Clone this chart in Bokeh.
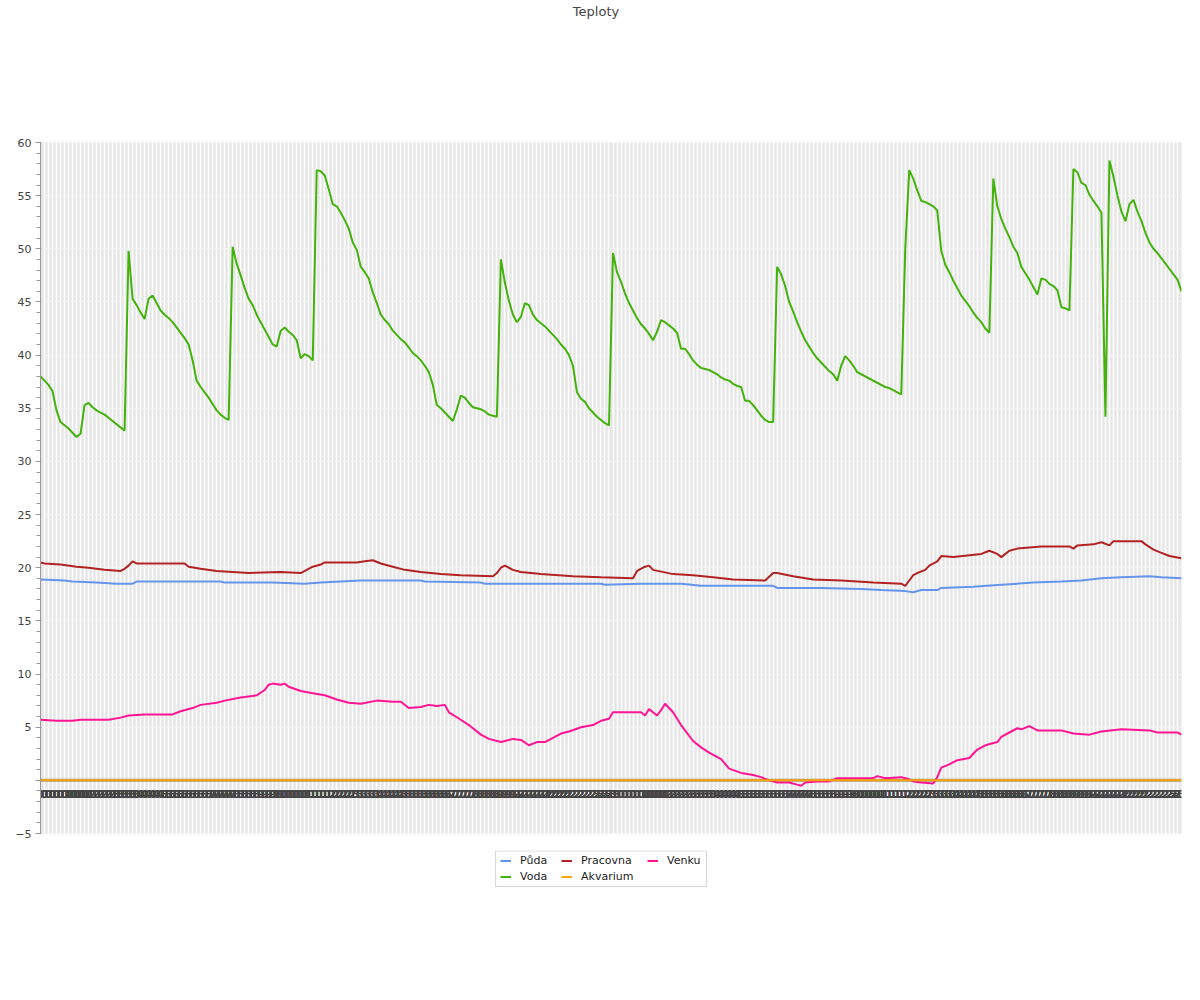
from bokeh.plotting import figure
from bokeh.models import (FixedTicker, Legend, LegendItem, Range1d, Div, Span,
                          BoxAnnotation)
from bokeh.layouts import column
from bokeh.embed import file_html
from bokeh.resources import INLINE

# ---- data ----
N = 286
x_labels = [f"{(i * 10 // 60) % 24:02d}" for i in range(N)]

voda_y = [38.0, 37.6, 37.2, 36.6, 34.8, 33.7, 33.4, 33.1, 32.7, 32.3,
          32.6, 35.3, 35.5, 35.1, 34.8, 34.6, 34.4, 34.1, 33.8, 33.5,
          33.2, 32.9, 49.8, 45.3, 44.7, 44.0, 43.4, 45.3, 45.6, 44.9,
          44.2, 43.8, 43.5, 43.1, 42.6, 42.1, 41.6, 41.0, 39.5, 37.6,
          37.0, 36.5, 36.0, 35.4, 34.8, 34.4, 34.1, 33.9, 50.2, 48.6,
          47.5, 46.3, 45.3, 44.7, 43.8, 43.1, 42.4, 41.7, 41.0, 40.8,
          42.3, 42.6, 42.2, 41.9, 41.4, 39.7, 40.1, 39.9, 39.5, 57.4,
          57.3, 56.9, 55.6, 54.2, 54.0, 53.4, 52.7, 51.9, 50.6, 49.9,
          48.3, 47.8, 47.2, 45.9, 44.9, 43.8, 43.3, 42.9, 42.3, 41.9,
          41.5, 41.2, 40.7, 40.2, 39.9, 39.5, 39.0, 38.4, 37.2, 35.3,
          35.0, 34.6, 34.2, 33.8, 34.9, 36.2, 36.0, 35.5, 35.1, 35.0,
          34.9, 34.7, 34.4, 34.3, 34.2, 49.0, 46.8, 45.1, 43.8, 43.1,
          43.6, 44.9, 44.7, 43.8, 43.3, 43.0, 42.7, 42.3, 41.9, 41.5,
          41.0, 40.6, 40.0, 39.0, 36.5, 35.9, 35.6, 35.0, 34.6, 34.2,
          33.9, 33.6, 33.4, 49.6, 47.8, 46.9, 45.8, 44.9, 44.2, 43.5,
          42.9, 42.5, 42.0, 41.4, 42.2, 43.3, 43.1, 42.8, 42.5, 42.1,
          40.6, 40.6, 40.1, 39.5, 39.1, 38.8, 38.7, 38.6, 38.4, 38.2,
          37.9, 37.7, 37.6, 37.3, 37.1, 37.0, 35.7, 35.7, 35.3, 34.8,
          34.3, 33.9, 33.7, 33.7, 48.3, 47.6, 46.5, 45.0, 44.1, 43.1,
          42.2, 41.4, 40.8, 40.2, 39.7, 39.3, 38.9, 38.5, 38.2, 37.6,
          39.0, 39.9, 39.5, 39.0, 38.4, 38.2, 38.0, 37.8, 37.6, 37.4,
          37.2, 37.0, 36.9, 36.7, 36.5, 36.3, 50.0, 57.4, 56.6, 55.5,
          54.5, 54.4, 54.2, 54.0, 53.6, 49.8, 48.5, 47.8, 47.0, 46.3,
          45.6, 45.1, 44.6, 44.0, 43.5, 43.1, 42.5, 42.1, 56.6, 54.0,
          52.8, 51.9, 51.1, 50.2, 49.6, 48.3, 47.7, 47.1, 46.4, 45.7,
          47.2, 47.1, 46.7, 46.5, 46.1, 44.5, 44.4, 44.2, 57.5, 57.2,
          56.2, 56.0, 55.1, 54.5, 54.0, 53.4, 34.2, 58.3, 56.8, 55.0,
          53.5, 52.6, 54.2, 54.6, 53.5, 52.6, 51.5, 50.6, 50.0, 49.6,
          49.1, 48.6, 48.1, 47.6, 47.1, 46.0]
voda_x = list(range(len(voda_y)))

puda_x = [0, 6, 8, 14, 19, 23, 24, 45, 46, 58, 66, 70, 80, 95, 96, 110, 111,
          140, 141, 150, 160, 165, 183, 184, 195, 205, 210, 216, 218, 220,
          224, 225, 233, 240, 248, 255, 260, 265, 270, 277, 280, 285]
puda_y = [18.9, 18.8, 18.7, 18.6, 18.5, 18.5, 18.7, 18.7, 18.6, 18.6, 18.5,
          18.6, 18.8, 18.8, 18.7, 18.6, 18.5, 18.5, 18.4, 18.5, 18.5, 18.3,
          18.3, 18.1, 18.1, 18.0, 17.9, 17.8, 17.7, 17.9, 17.9, 18.1, 18.2,
          18.4, 18.6, 18.7, 18.8, 19.0, 19.1, 19.2, 19.1, 19.0]

pracovna_x = [0, 1, 5, 9, 12, 16, 20, 21, 22, 23, 24, 36, 37, 40, 44, 48, 52,
              60, 65, 68, 70, 71, 79, 81, 83, 85, 88, 91, 95, 100, 105, 113,
              114, 115, 116, 118, 120, 125, 133, 140, 148, 149, 151, 152, 153,
              158, 163, 168, 173, 181, 183, 184, 188, 193, 200, 208, 215, 216,
              217, 218, 219, 221, 222, 224, 225, 228, 235, 237, 239, 240, 242,
              244, 250, 257, 258, 259, 263, 265, 267, 268, 275, 276, 278, 280,
              282, 285]
pracovna_y = [20.5, 20.4, 20.3, 20.1, 20.0, 19.8, 19.7, 19.9, 20.2, 20.6,
              20.4, 20.4, 20.1, 19.9, 19.7, 19.6, 19.5, 19.6, 19.5, 20.1,
              20.3, 20.5, 20.5, 20.6, 20.7, 20.4, 20.1, 19.8, 19.6, 19.4,
              19.3, 19.2, 19.5, 20.0, 20.2, 19.8, 19.6, 19.4, 19.2, 19.1,
              19.0, 19.7, 20.1, 20.2, 19.8, 19.4, 19.3, 19.1, 18.9, 18.8,
              19.5, 19.5, 19.2, 18.9, 18.8, 18.6, 18.5, 18.3, 18.8, 19.3,
              19.5, 19.8, 20.2, 20.6, 21.1, 21.0, 21.3, 21.6, 21.3, 21.0,
              21.6, 21.8, 22.0, 22.0, 21.8, 22.1, 22.2, 22.4, 22.1, 22.5,
              22.5, 22.2, 21.7, 21.4, 21.1, 20.9]

akvarium_x = [0, 285]
akvarium_y = [0.0, 0.0]

venku_x = [0, 4, 8, 10, 17, 20, 22, 26, 33, 35, 38, 40, 44, 46, 50, 54, 56,
           57, 58, 60, 61, 62, 65, 68, 71, 74, 77, 80, 84, 88, 90, 92, 95, 97,
           99, 101, 102, 105, 107, 110, 112, 115, 118, 120, 122, 124, 126,
           128, 130, 132, 135, 138, 140, 142, 143, 148, 150, 151, 152, 154,
           155, 156, 158, 160, 163, 165, 167, 170, 172, 175, 178, 180, 182,
           184, 187, 189, 190, 191, 194, 197, 199, 208, 209, 211, 215, 217,
           218, 220, 223, 224, 225, 227, 229, 232, 234, 236, 239, 240, 242,
           244, 245, 247, 249, 255, 258, 262, 265, 270, 277, 279, 284, 285]
venku_y = [5.7, 5.6, 5.6, 5.7, 5.7, 5.9, 6.1, 6.2, 6.2, 6.5, 6.8, 7.1, 7.3,
           7.5, 7.8, 8.0, 8.5, 9.0, 9.1, 9.0, 9.1, 8.8, 8.4, 8.2, 8.0, 7.6,
           7.3, 7.2, 7.5, 7.4, 7.4, 6.8, 6.9, 7.1, 7.0, 7.1, 6.4, 5.7, 5.2,
           4.3, 3.9, 3.6, 3.9, 3.8, 3.3, 3.6, 3.6, 4.0, 4.4, 4.6, 5.0, 5.2,
           5.6, 5.8, 6.4, 6.4, 6.4, 6.1, 6.7, 6.1, 6.6, 7.2, 6.4, 5.2, 3.7,
           3.1, 2.6, 2.0, 1.1, 0.7, 0.5, 0.3, 0.0, -0.2, -0.2, -0.4, -0.5,
           -0.2, -0.1, -0.1, 0.2, 0.2, 0.4, 0.2, 0.3, 0.1, -0.1, -0.2, -0.3,
           0.3, 1.2, 1.5, 1.9, 2.1, 2.9, 3.3, 3.6, 4.1, 4.5, 4.9, 4.8, 5.1,
           4.7, 4.7, 4.4, 4.3, 4.6, 4.8, 4.7, 4.5, 4.5, 4.3]

y_major = [-5, 0, 5, 10, 15, 20, 25, 30, 35, 40, 45, 50, 55, 60]
y_minor = list(range(-5, 61))

series_names = ["Půda", "Voda", "Pracovna", "Akvarium", "Venku"]
series_colors = ["#6495ed", "#44b20c", "#b22222", "#ffa500", "#ff1493"]
legend_columns = [["Půda", "Voda"], ["Pracovna", "Akvarium"], ["Venku"]]

FONT = "DejaVu Sans"

title_div = Div(text="Teploty", width=1192, height=22, margin=0,
                styles={"text-align": "center", "font-family": FONT,
                        "font-size": "13px", "color": "#444444",
                        "line-height": "24px", "width": "1192px"})

p = figure(width=1192, height=828, output_backend="svg", toolbar_location=None,
           x_range=Range1d(0, N - 1), y_range=Range1d(-5, 60),
           min_border_left=40, min_border_right=11, min_border_top=120,
           min_border_bottom=17, margin=0)

p.background_fill_color = "#e6e6e6"
p.border_fill_color = "white"
p.outline_line_color = None

# y axis
p.yaxis.ticker = FixedTicker(ticks=y_major, minor_ticks=y_minor)
p.yaxis.major_label_overrides = {0: ""}
p.yaxis.axis_line_color = "#999999"
p.yaxis.major_tick_line_color = "#999999"
p.yaxis.minor_tick_line_color = "#999999"
p.yaxis.major_tick_out = 5
p.yaxis.major_tick_in = 1
p.yaxis.minor_tick_out = 4
p.yaxis.minor_tick_in = 0
p.yaxis.major_label_text_font = FONT
p.yaxis.major_label_text_font_size = "11px"
p.yaxis.major_label_text_color = "#444444"
p.yaxis.major_label_standoff = 4

# x axis at zero
p.xaxis.fixed_location = 0
p.xaxis.ticker = FixedTicker(ticks=list(range(N)))
p.xaxis.major_label_overrides = {i: x_labels[i] for i in range(N)}
p.xaxis.axis_line_color = None
p.xaxis.major_tick_out = 0
p.xaxis.major_tick_in = 0
p.xaxis.minor_tick_out = 0
p.xaxis.minor_tick_in = 0
p.xaxis.major_label_text_font = FONT
p.xaxis.major_label_text_font_size = "11px"
p.xaxis.major_label_text_font_style = "bold"
p.xaxis.major_label_text_color = "#444444"
p.xaxis.major_label_standoff = 10

p.xgrid.ticker = FixedTicker(ticks=list(range(N)))
p.xgrid.grid_line_color = "white"
p.xgrid.grid_line_width = 1.5
p.ygrid.ticker = FixedTicker(ticks=y_major)
p.ygrid.grid_line_color = "#f2f2f2"
p.ygrid.grid_line_width = 1

zero_line = Span(location=0, dimension="width", line_color="#999999",
                 line_width=3, level="underlay")
p.add_layout(zero_line)

p.line(puda_x, puda_y, line_color=series_colors[0], line_width=2)
p.line(voda_x, voda_y, line_color=series_colors[1], line_width=2)
p.line(pracovna_x, pracovna_y, line_color=series_colors[2], line_width=2)
p.line(venku_x, venku_y, line_color=series_colors[4], line_width=2)
p.line(akvarium_x, akvarium_y, line_color=series_colors[3], line_width=2)

# ---- legend in its own strip below the chart ----
lg = figure(width=1192, height=60, output_backend="svg", toolbar_location=None,
            x_range=Range1d(0, 1), y_range=Range1d(0, 1),
            x_axis_type=None, y_axis_type=None, min_border=0, margin=0)
lg.outline_line_color = None
lg.grid.visible = False
lg.background_fill_color = "white"
dummy = {}
for name, col in zip(series_names, series_colors):
    # placeholder renderers (outside the visible range) that only feed the legend
    dummy[name] = lg.line([2, 3], [2, 3], line_color=col, line_width=2)

# legend frame (fractions of the strip)
lg.add_layout(BoxAnnotation(left=0.3988, right=0.5837, bottom=0.40, top=0.992,
                            fill_alpha=0, line_color="#777777", line_width=1,
                            level="underlay"))

col_x = [460, 521, 607]
col_y = [27, 27, 43]
for names, lx, ly in zip(legend_columns, col_x, col_y):
    lgd = Legend(items=[LegendItem(label=n, renderers=[dummy[n]]) for n in names],
                 location=(lx, ly), orientation="vertical")
    lgd.label_text_font = FONT
    lgd.label_text_font_size = "11px"
    lgd.label_text_color = "#222222"
    lgd.glyph_width = 11
    lgd.glyph_height = 13
    lgd.label_height = 13
    lgd.label_standoff = 9
    lgd.spacing = 3
    lgd.padding = 0
    lgd.margin = 0
    lgd.border_line_color = None
    lgd.background_fill_alpha = 0
    lg.add_layout(lgd, "center")

layout = column(title_div, p, lg, spacing=0, margin=0)

open("out.html", "w").write(file_html(layout, INLINE))
